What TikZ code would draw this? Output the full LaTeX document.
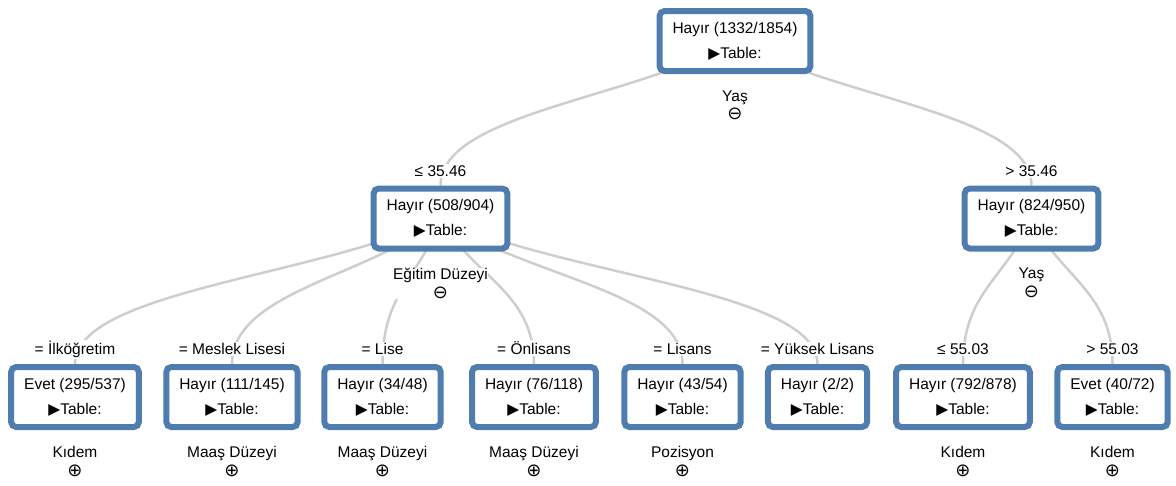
\documentclass[tikz,border=0pt]{standalone}
\usepackage{fontspec}
\setmainfont{Liberation Sans}
\newfontfamily\symfont{DejaVu Sans}
\usetikzlibrary{calc,backgrounds}
\definecolor{boxblue}{RGB}{79,125,176}
\definecolor{linkgray}{RGB}{206,206,206}
\tikzset{
  tnode/.style={draw=boxblue,line width=6pt,rounded corners=5pt,fill=white,
    minimum height=60pt,inner xsep=13pt,align=center,
    font=\fontsize{15.5}{25}\selectfont},
  cond/.style={anchor=base,fill=white,inner sep=1.5pt,font=\fontsize{15.5}{18}\selectfont},
  attr/.style={anchor=north,fill=white,inner sep=0.5pt,align=center,
    font=\fontsize{15.5}{18.5}\selectfont},
  link/.style={draw=linkgray,line width=2.5pt}
}
\newcommand{\tbl}{{\symfont ▶}Table:}
\newcommand{\sgn}[1]{{\fontsize{18}{18.5}\symfont #1}}
\newcommand{\tlink}[2]{\draw[link] let \p1=(#1.center), \p2=(#2.north) in
  (\p1) .. controls ({\x1+0.34*(\x2-\x1)},{\y1+0.4*(\y2-\y1)})
  and (\x2,{\y1+0.5*(\y2-\y1)}) .. (\p2);}
\begin{document}
\begin{tikzpicture}[x=1pt,y=-1pt]
  \useasboundingbox (0,0) rectangle (1176,485);
  % tree nodes
  \node[tnode] (root)    at (735,41)      {Hayır (1332/1854)\\\tbl};
  \node[tnode] (yasLow)  at (440.5,218.5) {Hayır (508/904)\\\tbl};
  \node[tnode] (yasHigh) at (1031.5,218.5){Hayır (824/950)\\\tbl};
  \node[tnode] (ilk)     at (75,397)      {Evet (295/537)\\\tbl};
  \node[tnode] (meslek)  at (232,397)     {Hayır (111/145)\\\tbl};
  \node[tnode] (lise)    at (382.5,397)   {Hayır (34/48)\\\tbl};
  \node[tnode] (onlis)   at (534,397)     {Hayır (76/118)\\\tbl};
  \node[tnode] (lisans)  at (682.5,397)   {Hayır (43/54)\\\tbl};
  \node[tnode] (yuksek)  at (817.5,397)   {Hayır (2/2)\\\tbl};
  \node[tnode] (yasMid)  at (963,397)     {Hayır (792/878)\\\tbl};
  \node[tnode] (yasOld)  at (1112.5,397)  {Evet (40/72)\\\tbl};
  % links, behind the boxes
  \begin{scope}[on background layer]
    \foreach \a/\b in {root/yasLow,root/yasHigh,yasLow/ilk,yasLow/meslek,
      yasLow/lise,yasLow/onlis,yasLow/lisans,yasLow/yuksek,
      yasHigh/yasMid,yasHigh/yasOld}{ \tlink{\a}{\b} }
  \end{scope}
  % split conditions above the children
  \foreach \n/\t in {yasLow/{≤ 35.46},yasHigh/{> 35.46},ilk/{= İlköğretim},
    meslek/{= Meslek Lisesi},lise/{= Lise},onlis/{= Önlisans},lisans/{= Lisans},
    yuksek/{= Yüksek Lisans},yasMid/{≤ 55.03},yasOld/{> 55.03}}{
    \node[cond] (\n-cond) at ($(\n.north)+(0,-9.5)$) {\t}; }
  % split attribute and expand sign under the nodes
  \foreach \n/\t/\s in {root/Yaş/⊖,yasLow/Eğitim Düzeyi/⊖,yasHigh/Yaş/⊖,
    ilk/Kıdem/⊕,meslek/Maaş Düzeyi/⊕,lise/Maaş Düzeyi/⊕,onlis/Maaş Düzeyi/⊕,
    lisans/Pozisyon/⊕,yasMid/Kıdem/⊕,yasOld/Kıdem/⊕}{
    \node[attr] (\n-attr) at ($(\n.south)+(0,16)$) {\t\\\sgn{\s}}; }
\end{tikzpicture}
\end{document}
